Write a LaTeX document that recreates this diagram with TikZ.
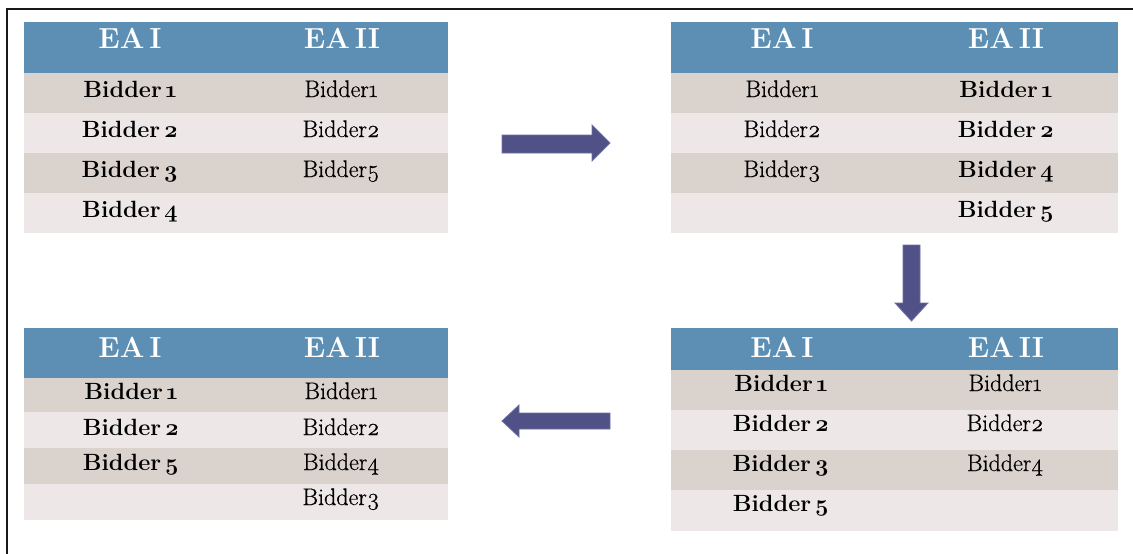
\documentclass[tikz,border=0pt]{standalone}
\usepackage{fontspec}
\setmainfont{Latin Modern Roman}[Numbers=OldStyle]
\newfontface\regface{Latin Modern Roman}[Numbers=OldStyle,FakeBold=0.6]
\definecolor{hdr}{RGB}{92,143,179}
\definecolor{rowA}{RGB}{218,210,205}
\definecolor{rowB}{RGB}{237,231,231}
\definecolor{arrowc}{RGB}{80,82,135}
\definecolor{arrowedge}{RGB}{110,112,160}
\newcommand{\bsp}{\hspace{3.5pt}}
\newcommand{\hsp}{\hspace{5pt}}
\tikzset{
  hdrtxt/.style={text=white,font=\fontsize{29}{29}\selectfont\bfseries,anchor=base,inner sep=0pt},
  btxt/.style={font=\fontsize{23.5}{23.5}\selectfont\bfseries,anchor=base,inner sep=0pt},
  rtxt/.style={font=\fontsize{24}{24}\selectfont\regface,anchor=base,inner sep=0pt},
  blockarrow/.style={fill=arrowc,draw=arrowedge,line width=0.8pt,line join=miter},
  frame/.style={line width=1.8pt,draw=black!90}
}
\begin{document}
\begin{tikzpicture}[x=1pt,y=-1pt]
\useasboundingbox (0,0) rectangle (1133,554);
\draw[frame] (6.8,554) -- (6.8,8.6) -- (1133,8.6);
% ---------- Table 1 (top left)
\fill[hdr]  (24,22)  rectangle (448,73);
\fill[rowA] (24,73)  rectangle (448,113);
\fill[rowB] (24,113) rectangle (448,153);
\fill[rowA] (24,153) rectangle (448,193);
\fill[rowB] (24,193) rectangle (448,233);
\node[hdrtxt] (a0) at (130,48) {EA\hsp I};
\node[hdrtxt] (b0) at (342,48) {EA\hsp II};
\node[btxt] (a1) at (130,97)  {Bidder\bsp 1};
\node[btxt] (a2) at (130,137) {Bidder\bsp 2};
\node[btxt] (a3) at (130,177) {Bidder\bsp 3};
\node[btxt] (a4) at (130,217) {Bidder\bsp 4};
\node[rtxt] (b1) at (341,97)  {Bidder1};
\node[rtxt] (b2) at (341,137) {Bidder2};
\node[rtxt] (b3) at (341,177) {Bidder5};
% ---------- Table 2 (top right)
\fill[hdr]  (671,22)  rectangle (1118,73);
\fill[rowA] (671,73)  rectangle (1118,113);
\fill[rowB] (671,113) rectangle (1118,153);
\fill[rowA] (671,153) rectangle (1118,193);
\fill[rowB] (671,193) rectangle (1118,233);
\node[hdrtxt] (c0) at (782,48) {EA\hsp I};
\node[hdrtxt] (d0) at (1006,48) {EA\hsp II};
\node[rtxt] (c1) at (782,97)  {Bidder1};
\node[rtxt] (c2) at (782,137) {Bidder2};
\node[rtxt] (c3) at (782,177) {Bidder3};
\node[btxt] (d1) at (1006,97)  {Bidder\bsp 1};
\node[btxt] (d2) at (1006,137) {Bidder\bsp 2};
\node[btxt] (d3) at (1006,177) {Bidder\bsp 4};
\node[btxt] (d4) at (1006,217) {Bidder\bsp 5};
% ---------- Table 3 (bottom left)
\fill[hdr]  (24,328) rectangle (448,378);
\fill[rowA] (24,378) rectangle (448,412);
\fill[rowB] (24,412) rectangle (448,448);
\fill[rowA] (24,448) rectangle (448,484);
\fill[rowB] (24,484) rectangle (448,520);
\node[hdrtxt] (e0) at (130,357) {EA\hsp I};
\node[hdrtxt] (f0) at (342,357) {EA\hsp II};
\node[btxt] (e1) at (131,399) {Bidder\bsp 1};
\node[btxt] (e2) at (131,435) {Bidder\bsp 2};
\node[btxt] (e3) at (131,470) {Bidder\bsp 5};
\node[rtxt] (f1) at (341,399) {Bidder1};
\node[rtxt] (f2) at (341,435) {Bidder2};
\node[rtxt] (f3) at (341,470) {Bidder4};
\node[rtxt] (f4) at (341,505) {Bidder3};
% ---------- Table 4 (bottom right)
\fill[hdr]  (671,328) rectangle (1118,370);
\fill[rowA] (671,370) rectangle (1118,410);
\fill[rowB] (671,410) rectangle (1118,450);
\fill[rowA] (671,450) rectangle (1118,490);
\fill[rowB] (671,490) rectangle (1118,531);
\node[hdrtxt] (g0) at (782,357) {EA\hsp I};
\node[hdrtxt] (h0) at (1006,357) {EA\hsp II};
\node[btxt] (g1) at (781,391) {Bidder\bsp 1};
\node[btxt] (g2) at (781,431) {Bidder\bsp 2};
\node[btxt] (g3) at (781,471) {Bidder\bsp 3};
\node[btxt] (g4) at (781,511) {Bidder\bsp 5};
\node[rtxt] (h1) at (1005,391) {Bidder1};
\node[rtxt] (h2) at (1005,431) {Bidder2};
\node[rtxt] (h3) at (1005,471) {Bidder4};
% ---------- Block arrows
\draw[blockarrow] (502,135) -- (592,135) -- (592,125) -- (610,143) -- (592,161) -- (592,153) -- (502,153) -- cycle;
\draw[blockarrow] (903,245) -- (920,245) -- (920,303) -- (928,303) -- (911.5,321) -- (895,303) -- (903,303) -- cycle;
\draw[blockarrow] (610,413) -- (519,413) -- (519,405) -- (502,421) -- (519,437) -- (519,429) -- (610,429) -- cycle;
\end{tikzpicture}
\end{document}
